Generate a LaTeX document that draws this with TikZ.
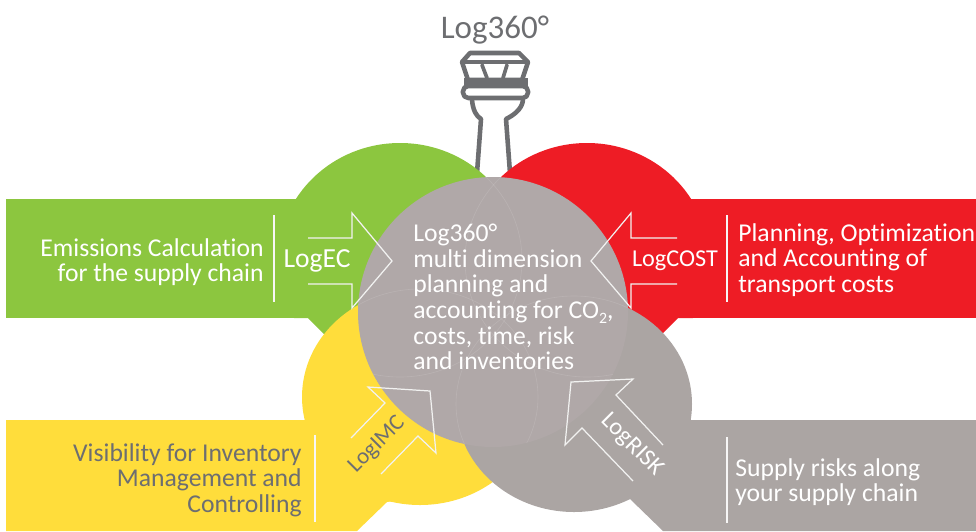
\documentclass[tikz,border=0pt]{standalone}
\usepackage{fontspec}
\setmainfont{Carlito}[RawFeature={-liga}]
\usetikzlibrary{positioning}
\definecolor{logGreen}{HTML}{8CC63F}
\definecolor{logRed}{HTML}{EE1C25}
\definecolor{logYellow}{HTML}{FFDD3B}
\definecolor{logGrey}{HTML}{ABA5A3}
\definecolor{logCore}{HTML}{B0A8A8}
\definecolor{logDark}{HTML}{6D6E71}
\tikzset{
	bodytext/.style={font=\fontsize{14.6}{14.6}\selectfont,inner sep=0pt},
	tagtext/.style={font=\fontsize{13.8}{14.8}\selectfont,inner sep=0pt},
	arrowline/.style={draw=white!85!logGrey,line width=0.7pt,line join=miter},
	divider/.style={draw=white!90!logGrey,line width=0.6pt},
	seam/.style={draw=white,opacity=0.12,line width=0.35pt},
	tower/.style={draw=logDark,line width=2.6pt,line join=round,line cap=round}
}
\begin{document}
\begin{tikzpicture}[x=0.02cm,y=-0.02cm]
	\useasboundingbox (0,0) rectangle (976,531);
	% tower
	\fill[logDark] (464,78) rectangle (528,88);
	\draw[tower] (462,62)--(470,53)--(519,53)--(528,62)--(522,80)--(468,80)--cycle;
	\draw[tower] (464,62)--(526,62);
	\draw[tower,line width=2.1pt] (482,65)--(487,78) (507,65)--(503,78);
	\draw[tower,rounded corners=3pt] (463,86) rectangle (528,98);
	\draw[tower] (472,100) .. controls (473,110) and (476,116) .. (481,119)--(477,173);
	\draw[tower] (523,100) .. controls (522,110) and (512,116) .. (506,119)--(510,173);
	\node (title) at (495,30) {\fontsize{18.8}{24}\selectfont\color{logDark}Log360°};
	% green
	\begin{scope}
		\clip (200,100)--(600,100)--(600,400)--(390,400)--(308,318)--(200,318)--cycle;
		\fill[logGreen] (400,260) ellipse (122 and 117);
	\end{scope}
	\fill[logGreen] (6,199) rectangle (330,318);
	% red
	\begin{scope}
		\clip (500,100)--(800,100)--(800,318)--(678,318)--(590,406)--(500,406)--cycle;
		\fill[logRed] (587,260) ellipse (122 and 117);
	\end{scope}
	\fill[logRed] (660,199) rectangle (976,318);
	% yellow
	\fill[logYellow] (420,397) ellipse (118 and 108);
	\fill[logYellow] (6,420)--(400,420)--(400,500)--(387,502)--(357,531)--(6,531)--cycle;
	% grey
	\fill[logGrey] (574,404) ellipse (118 and 108);
	\fill[logGrey] (976,420)--(600,420)--(600,500)--(630,499)--(663,531)--(976,531)--cycle;
	% centre
	\fill[logCore] (493,312) circle (135);
	\begin{scope}
		\clip (493,312) circle (135);
		\draw[seam] (400,260) ellipse (122 and 117);
		\draw[seam] (587,260) ellipse (122 and 117);
		\draw[seam] (420,397) ellipse (118 and 108);
		\draw[seam] (574,404) ellipse (118 and 108);
	\end{scope}
	% arrows
	\draw[arrowline] (308,238)--(352,238)--(352,213)--(392,261)--(352,308)--(352,284)--(308,284);
	\draw[arrowline] (677,238)--(631,238)--(631,213)--(591,261)--(631,308)--(631,284)--(677,284);
	\draw[arrowline] (351,438)--(385,403)--(368,387)--(430,391)--(436,453)--(418,436)--(381,474);
	\draw[arrowline] (663,445)--(616,395)--(633,379)--(571,382)--(565,445)--(582,428)--(633,481);
	% dividers
	\draw[divider] (274,215)--(274,302);
	\draw[divider] (727,215)--(727,302);
	\draw[divider] (315,435)--(315,522);
	\draw[divider] (727,437)--(727,523);
	% labels
	\node[bodytext,white,align=right,anchor=east] (ecText) at (264,262) {Emissions Calculation\\for the supply chain};
	\node[bodytext,white,align=left,anchor=west] (costText) at (738,260) {Planning, Optimization\\and Accounting of\\transport costs};
	\node[bodytext,logDark,align=right,anchor=east] (imcText) at (302,480) {Visibility for Inventory\\Management and\\Controlling};
	\node[bodytext,white,align=left,anchor=west] (riskText) at (735,482) {Supply risks along\\your supply chain};
	\node[bodytext,white,align=left,anchor=west] (coreText) at (413,297) {Log360°\\multi dimension\\planning and\\accounting for CO\raisebox{-0.4ex}{\fontsize{9}{9}\selectfont 2},\\costs, time, risk\\and inventories};
	\node[inner sep=0pt,white,font=\fontsize{15.7}{16}\selectfont] (ecTag) at (317,261) {LogEC};
	\node[tagtext,white] (costTag) at (675,261) {LogCOST};
	\node[inner sep=0pt,logDark,rotate=45,font=\fontsize{13}{14}\selectfont] (imcTag) at (377,445) {LogIMC};
	\node[tagtext,white,rotate=-45] (riskTag) at (632,445) {LogRISK};
\end{tikzpicture}
\end{document}
